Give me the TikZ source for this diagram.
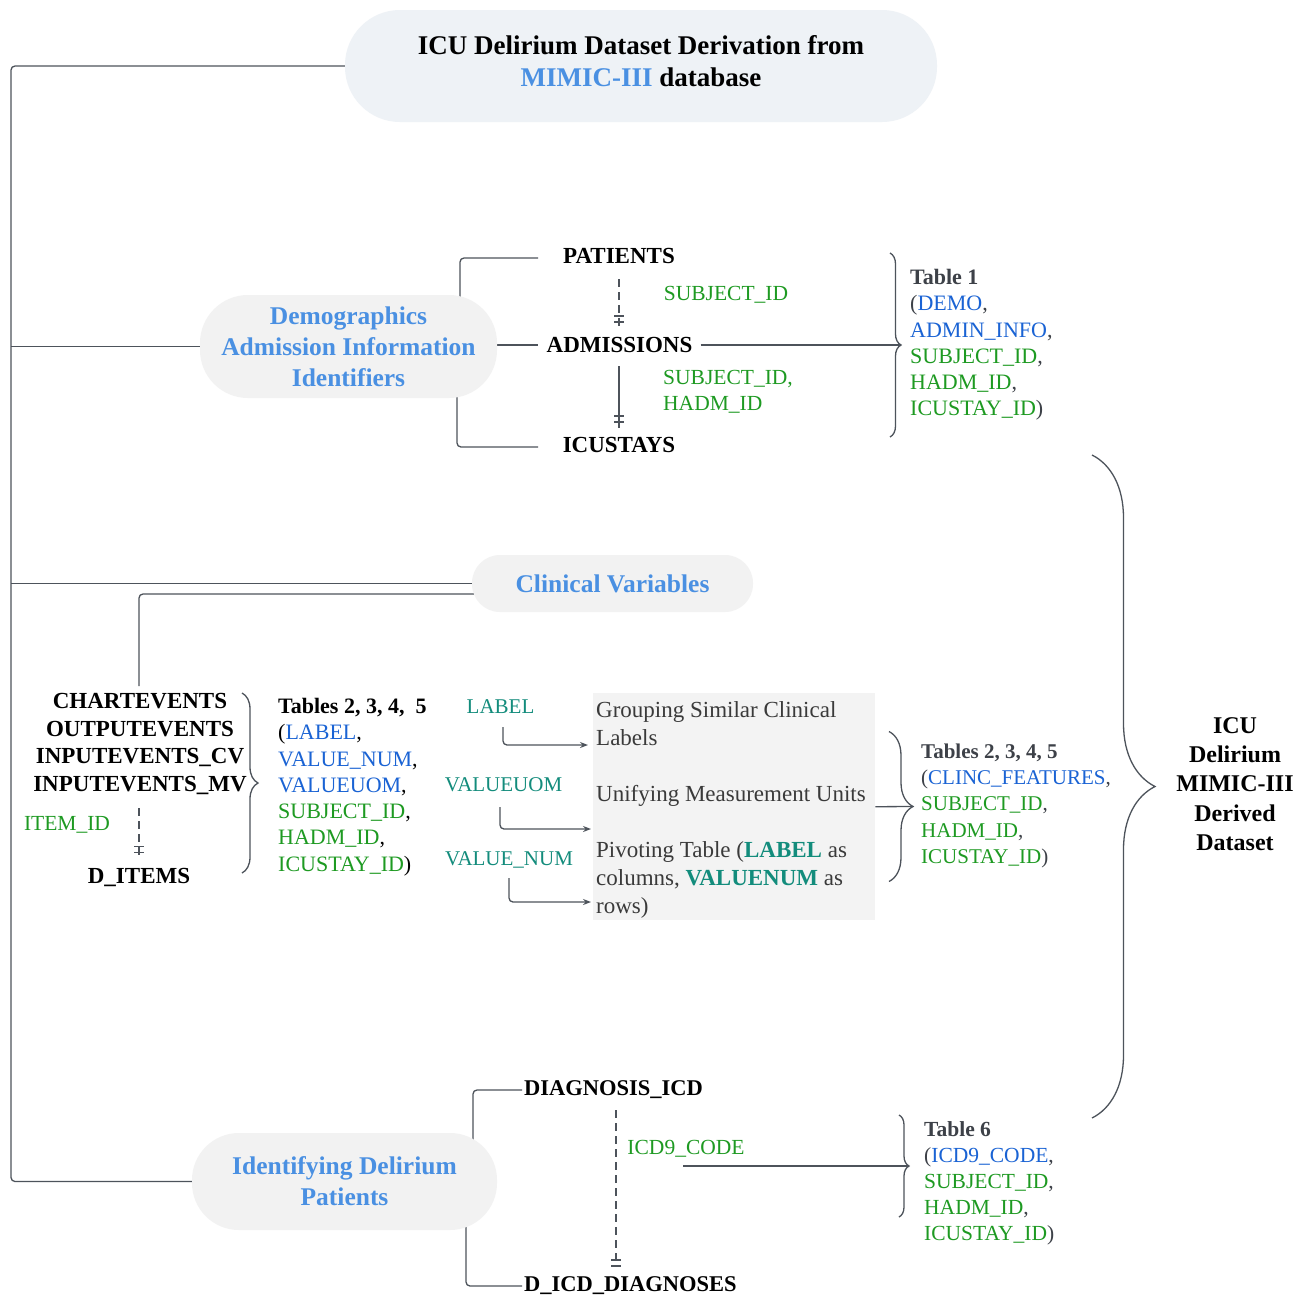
\documentclass[tikz,border=0pt]{standalone}
\usepackage{fontspec}
\setmainfont{Liberation Serif}
\usetikzlibrary{arrows.meta,decorations.pathreplacing,calc}
\definecolor{linec}{HTML}{4D535B}
\definecolor{titlefill}{HTML}{EEF2F6}
\definecolor{shapefill}{HTML}{F2F2F2}
\definecolor{boxfill}{HTML}{F3F3F3}
\definecolor{headblue}{HTML}{4A90E2}
\definecolor{fieldblue}{HTML}{1A63D4}
\definecolor{fieldgreen}{HTML}{1E9A22}
\definecolor{mteal}{HTML}{138C7C}
\definecolor{darkgray}{HTML}{3D4148}
\definecolor{boxtextc}{HTML}{3A3A3A}
\newcommand{\myfs}[2]{\fontsize{#1}{#2}\selectfont}
\newcommand{\fb}[1]{\textcolor{fieldblue}{#1}}
\newcommand{\fg}[1]{\textcolor{fieldgreen}{#1}}
\pgfdeclarelayer{bg}
\pgfsetlayers{bg,main}
\begin{document}
\begin{tikzpicture}[x=1pt,y=-1pt,
  conn/.style={draw=linec, line width=1.3pt, rounded corners=4pt},
  dashconn/.style={draw=linec, line width=1.3pt, dash pattern=on 8pt off 5pt},
  bracec/.style={draw=linec, line width=1.3pt, decorate, decoration={brace, amplitude=#1}},
  arr/.style={conn, -{Stealth[length=8pt,width=6pt]}},
  hub/.style={rounded corners=#1, fill=shapefill, inner sep=0pt, align=center, text=headblue, font=\bfseries\myfs{25.5}{31}},
  tname/.style={inner sep=0pt, font=\bfseries\myfs{23}{27.7}, text=black},
  field/.style={inner sep=0pt, text=fieldgreen, font=\myfs{21.5}{26.3}},
  tlist/.style={inner sep=0pt, anchor=north west, align=left, text=darkgray, font=\myfs{22}{26.3}},
  tealbl/.style={inner sep=0pt, text=mteal, font=\myfs{21}{26}},
  onemark/.pic={\draw[linec, line width=1.1pt] (-5,-3) -- (5,-3) (-5,3) -- (5,3);}
]
\useasboundingbox (0,0) rectangle (1304,1299);

% ---------- hubs ----------
\node[hub=55pt, fill=titlefill, minimum width=592pt, minimum height=112pt] (title) at (641,66) {};
\node[inner sep=0pt, align=center, font=\bfseries\myfs{27}{32}] (titletext) at (641,61)
  {ICU Delirium Dataset Derivation from\\\textcolor{headblue}{MIMIC-III} database};
\node[hub=48pt, minimum width=297pt, minimum height=103pt] (demo) at (348.5,346.5)
  {Demographics\\Admission Information\\Identifiers};
\node[hub=28pt, minimum width=281pt, minimum height=57pt] (clin) at (612.5,583.5) {Clinical Variables};
\node[hub=47pt, minimum width=305pt, minimum height=97pt] (ident) at (344.5,1181.5)
  {Identifying Delirium\\Patients};

% ---------- table names ----------
\node[tname] (pat) at (619,256) {PATIENTS};
\node[tname, inner xsep=8pt] (adm) at (619.5,345) {ADMISSIONS};
\node[tname] (icu) at (619,445) {ICUSTAYS};
\node[tname, align=center] (events) at (140,744)
  {CHARTEVENTS\\OUTPUTEVENTS\\INPUTEVENTS\_CV\\INPUTEVENTS\_MV};
\node[tname] (ditems) at (139,877) {D\_ITEMS};
\node[tname, font=\bfseries\myfs{22.5}{27}, anchor=west, inner xsep=2pt] (diag) at (522,1090) {DIAGNOSIS\_ICD};
\node[tname, font=\bfseries\myfs{22.5}{27}, anchor=west, inner xsep=2pt] (ddiag) at (522,1286) {D\_ICD\_DIAGNOSES};

% ---------- key labels ----------
\node[field] (subj1) at (726,295) {SUBJECT\_ID};
\node[field, anchor=north west, align=left] (subj2) at (663,370) {SUBJECT\_ID,\\HADM\_ID};
\node[field] (itemid) at (67,825) {ITEM\_ID};
\node[field] (icd) at (686,1149) {ICD9\_CODE};

\node[tealbl] (lab) at (500.5,707) {LABEL};
\node[tealbl] (uom) at (503.5,785) {VALUEUOM};
\node[tealbl] (vnum) at (509,860) {VALUE\_NUM};

% ---------- processing box ----------
\node[fill=boxfill, inner sep=0pt, minimum width=282pt, minimum height=227pt, anchor=north west] (box) at (593,693) {};
\node[inner sep=0pt, anchor=north west, align=left, text=boxtextc, font=\myfs{23}{28}] (boxtext) at (596,701)
  {Grouping Similar Clinical\\Labels\\[28pt]Unifying Measurement Units\\[28pt]Pivoting Table (\textbf{\textcolor{mteal}{LABEL}} as\\columns, \textbf{\textcolor{mteal}{VALUENUM}} as\\rows)};

% ---------- output tables ----------
\node[tlist] (t1) at (910,269)
  {\textbf{Table 1}\\(\fb{DEMO},\\\fb{ADMIN\_INFO},\\\fg{SUBJECT\_ID},\\\fg{HADM\_ID},\\\fg{ICUSTAY\_ID})};
\node[tlist, text=black] (t2) at (278,698)
  {\textbf{Tables 2, 3, 4,\ \ 5}\\(\fb{LABEL},\\\fb{VALUE\_NUM},\\\fb{VALUEUOM},\\\fg{SUBJECT\_ID},\\\fg{HADM\_ID},\\\fg{ICUSTAY\_ID})};
\node[tlist, font=\myfs{21}{26.25}] (t3) at (921,743.5)
  {\textbf{Tables 2, 3, 4, 5}\\(\fb{CLINC\_FEATURES},\\\fg{SUBJECT\_ID},\\\fg{HADM\_ID},\\\fg{ICUSTAY\_ID})};
\node[tlist, font=\myfs{21.5}{26}] (t6) at (924,1121)
  {\textbf{Table 6}\\(\fb{ICD9\_CODE},\\\fg{SUBJECT\_ID},\\\fg{HADM\_ID},\\\fg{ICUSTAY\_ID})};
\node[inner sep=0pt, align=center, font=\bfseries\myfs{24}{29.3}] (final) at (1235,784)
  {ICU\\Delirium\\MIMIC-III\\Derived\\Dataset};

% ---------- coordinates ----------
\coordinate (trunk) at (11,0);
\coordinate (patin) at (538,258);
\coordinate (icuin) at (538,447);
\coordinate (demoP) at (460,346);
\coordinate (demoI) at (457,346);
\coordinate (pa1) at (619,279);
\coordinate (pa2) at (619,327);
\coordinate (ai1) at (619,366);
\coordinate (ai2) at (619,428);
\coordinate (b1t) at (890,253);
\coordinate (b1b) at (890,437);
\coordinate (b1tip) at (901,345);
\coordinate (clinB) at (560,594);
\coordinate (evTop) at (139,686);
\coordinate (it1) at (139,808);
\coordinate (it2) at (139,857);
\coordinate (b2t) at (242,693);
\coordinate (b2b) at (242,873);
\coordinate (a1s) at (503,727);
\coordinate (a1e) at (588,745);
\coordinate (a2s) at (500,807);
\coordinate (a2e) at (591,829);
\coordinate (a3s) at (509,878);
\coordinate (a3e) at (591,902);
\coordinate (b3t) at (889,731.5);
\coordinate (b3b) at (889,881.5);
\coordinate (b3tip) at (913,806.5);
\coordinate (b4t) at (1092,455);
\coordinate (b4b) at (1092,1118);
\coordinate (identD) at (473,1181);
\coordinate (identDD) at (466,1181);
\coordinate (dd1) at (616,1110);
\coordinate (dd2) at (616,1267);
\coordinate (icdS) at (683,1166);
\coordinate (b5t) at (899,1115);
\coordinate (b5b) at (899,1217);
\coordinate (b5tip) at (909,1166);

% ---------- connectors ----------
\begin{pgfonlayer}{bg}
\fill[white] (0,0) rectangle (1304,1299);
\draw[conn] (title.west) -- (title.west -| trunk) -- (ident.west -| trunk) -- (ident.west);
\draw[conn] (demo.west -| trunk) -- (demo.west);
\draw[conn] (clin.west -| trunk) -- (clin.west);

\draw[conn] (demoP) |- (patin);
\draw[conn] (demo.east |- adm.west) -- (adm.west);
\draw[conn] (demoI) |- (icuin);
\draw[dashconn] (pa1) -- (pa2);
\pic at (619,319) {onemark};
\draw[conn] (ai1) -- (ai2);
\pic at (619,419) {onemark};
\draw[conn] (adm.east) -- (b1tip);
\draw[bracec=11pt] (b1t) -- (b1b);

\draw[conn] (clinB) -| (evTop);
\draw[dashconn] (it1) -- (it2);
\pic at (139,849.5) {onemark};
\draw[bracec=16pt] (b2t) -- (b2b);

\draw[arr] (a1s) |- (a1e);
\draw[arr] (a2s) |- (a2e);
\draw[arr] (a3s) |- (a3e);
\draw[conn] (box.east) -- (b3tip);
\draw[bracec=24pt] (b3t) -- (b3b);
\draw[bracec=63pt] (b4t) -- (b4b);

\draw[conn] (identD) |- (diag.west);
\draw[conn] (identDD) |- (ddiag.west);
\draw[dashconn] (dd1) -- (dd2);
\pic at (616,1263) {onemark};
\draw[conn] (icdS) -- (b5tip);
\draw[bracec=10pt] (b5t) -- (b5b);
\end{pgfonlayer}
\end{tikzpicture}
\end{document}
